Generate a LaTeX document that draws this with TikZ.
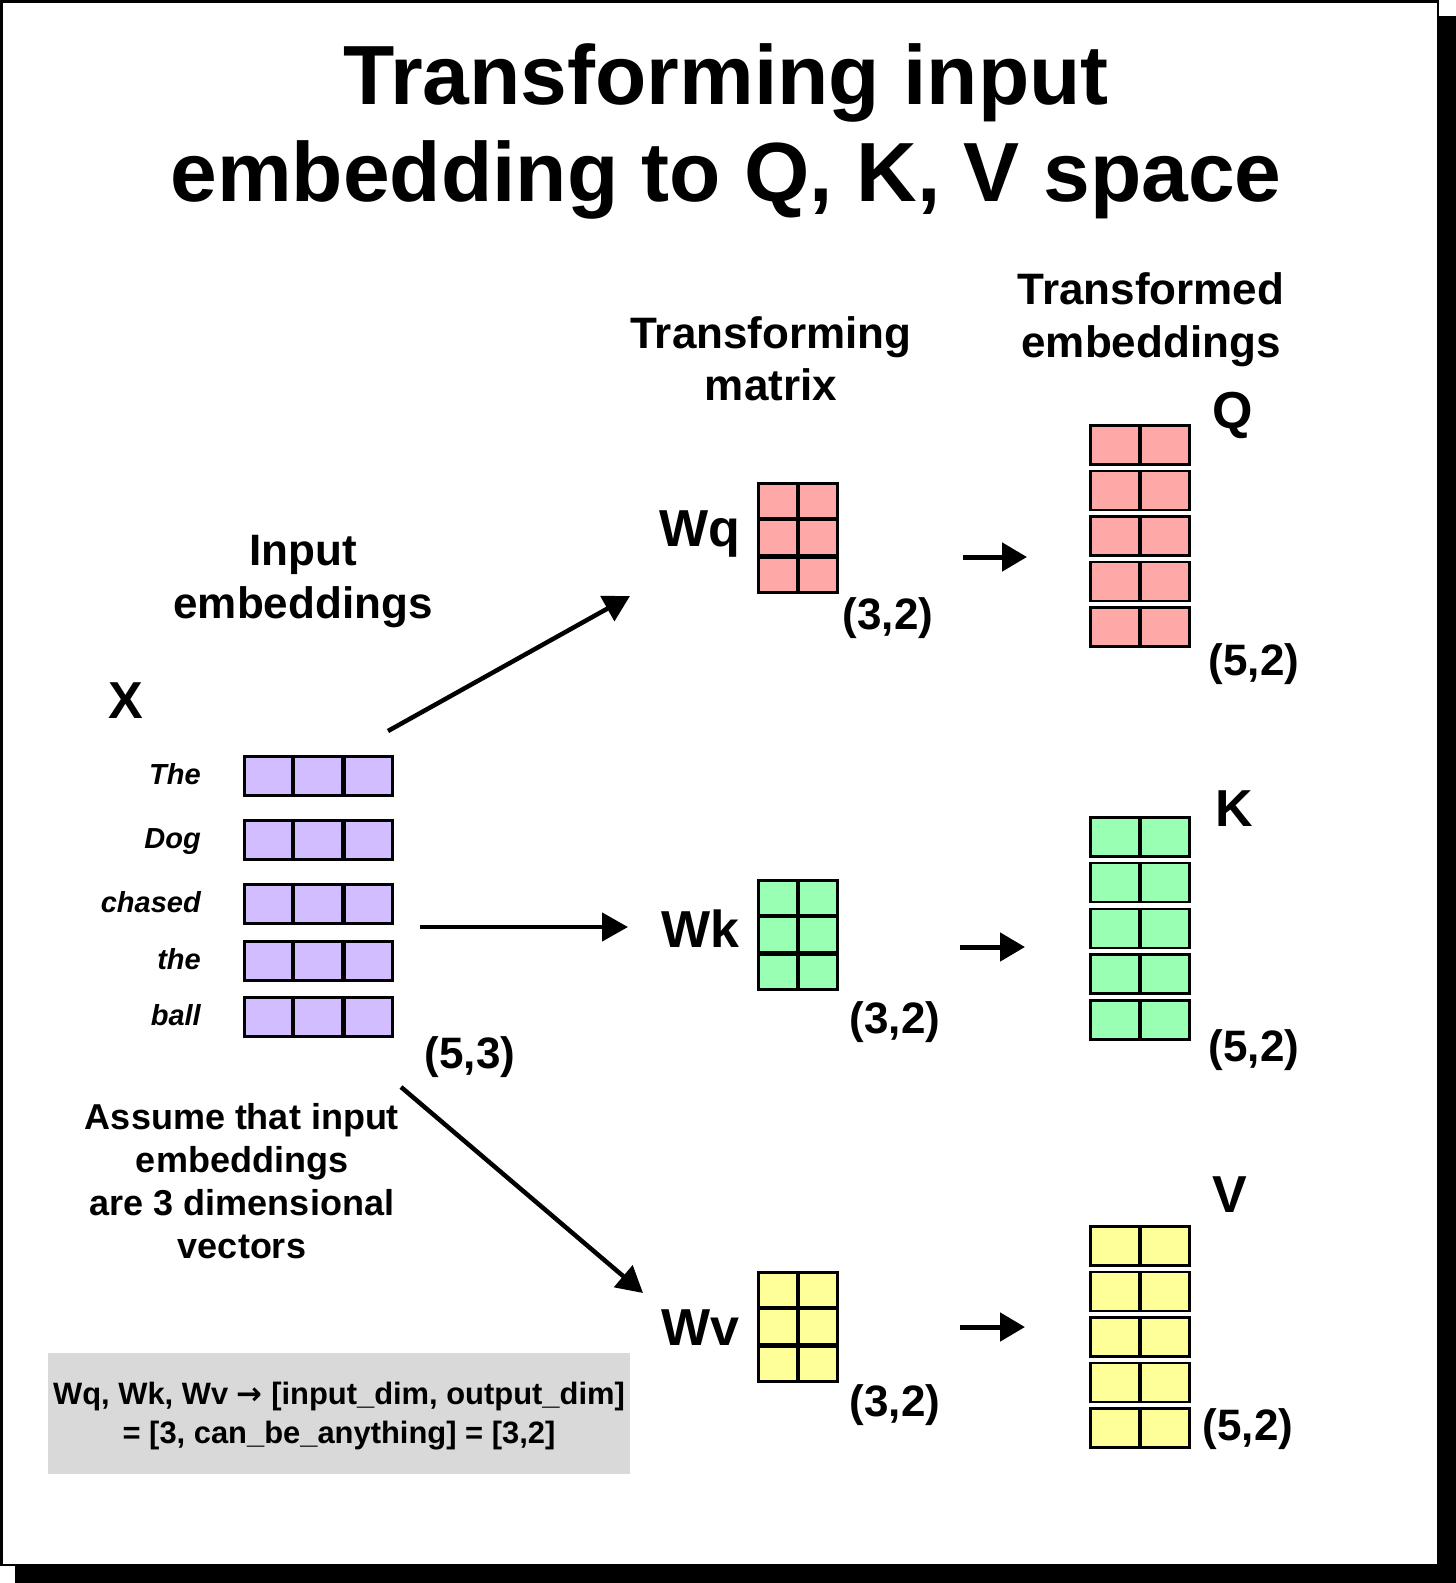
\documentclass[tikz,border=0pt]{standalone}
\usepackage{fontspec}
\setmainfont{Liberation Sans}
\newfontfamily\symfont{DejaVu Sans}
\usetikzlibrary{arrows.meta,calc}
\definecolor{xpurple}{RGB}{209,189,255}
\definecolor{qpink}{RGB}{255,168,168}
\definecolor{kgreen}{RGB}{153,255,178}
\definecolor{vyellow}{RGB}{255,255,153}
\definecolor{boxgray}{RGB}{217,217,217}
\newcommand\fsz[1]{\fontsize{#1}{#1}\selectfont}
\begin{document}
\begin{tikzpicture}[x=1pt,y=-1pt,
  lbl/.style={inner sep=0pt, anchor=base},
  titletxt/.style={lbl, font=\bfseries\fsz{84}},
  headtxt/.style={lbl, font=\bfseries\fsz{44}},
  bigtxt/.style={lbl, font=\bfseries\fsz{52}},
  dimtxt/.style={lbl, font=\bfseries\fsz{44}},
  wordtxt/.style={inner sep=0pt, anchor=base east, font=\bfseries\itshape\fsz{29}},
  notetxt/.style={lbl, font=\bfseries\fsz{36}},
  boxtxt/.style={lbl, font=\bfseries\fsz{30.9}},
  cellbox/.style={draw=black, line width=2.7pt, inner sep=0pt, anchor=north west},
  xrow/.style={cellbox, fill=xpurple, minimum width=148pt, minimum height=39pt},
  wmat/.style={cellbox, minimum width=79pt, minimum height=109pt},
  orow/.style={cellbox, minimum width=99pt, minimum height=39pt},
  divline/.style={line width=4.2pt, line cap=butt},
  bigarrow/.style={line width=4.5pt, -{Triangle[length=26pt,width=28pt]}},
  smallarrow/.style={line width=5pt, -{Triangle[length=25pt,width=28pt]}}
]
\useasboundingbox (0,0) rectangle (1456,1583);
% frame with shadow
\fill[black] (15,16) rectangle (1456,1583);
\fill[white] (0,0) rectangle (1439,1566);
\draw[line width=2.7pt] (1.35,1.35) rectangle (1438,1565);

% title
\node[titletxt] (title1) at (726,104) {Transforming input};
\node[titletxt] (title2) at (726,201) {embedding to Q, K, V space};

% headings
\node[headtxt] (tm1) at (771,348) {Transforming};
\node[headtxt] (tm2) at (771,400) {matrix};
\node[headtxt] (te1) at (1151,304) {Transformed};
\node[headtxt] (te2) at (1151,357) {embeddings};
\node[headtxt] (ie1) at (303,565) {Input};
\node[headtxt] (ie2) at (303,618) {embeddings};

% X and words
\node[bigtxt] (xlbl) at (126,718) {X};
\foreach \i/\y/\w in {1/755/The,2/819/Dog,3/883/chased,4/940/the,5/996/ball} {
  \node[xrow] (x\i) at (243,\y) {};
  \draw[divline] ($(x\i.north west)!1/3!(x\i.north east)$) -- ($(x\i.south west)!1/3!(x\i.south east)$);
  \draw[divline] ($(x\i.north west)!2/3!(x\i.north east)$) -- ($(x\i.south west)!2/3!(x\i.south east)$);
  \node[wordtxt] (w\i) at (201,\y+29.5) {\w};
}
\node[dimtxt] (xdim) at (470,1068) {(5,3)};

% weight matrices
\foreach \n/\c/\y/\l/\ly/\dx/\dy in {q/qpink/482/Wq/546/888/629,k/kgreen/879/Wk/947/895/1033,v/vyellow/1271/Wv/1345/895/1416} {
  \node[wmat, fill=\c] (W\n) at (757,\y) {};
  \draw[divline] (W\n.north) -- (W\n.south);
  \draw[divline] ($(W\n.north west)!1/3!(W\n.south west)$) -- ($(W\n.north east)!1/3!(W\n.south east)$);
  \draw[divline] ($(W\n.north west)!2/3!(W\n.south west)$) -- ($(W\n.north east)!2/3!(W\n.south east)$);
  \node[bigtxt] (W\n lbl) at (700,\ly) {\l};
  \node[dimtxt] (W\n dim) at (\dx,\dy) {(3,2)};
}

% output matrices
\foreach \i/\y in {1/424,2/469.5,3/515,4/560.5,5/606} {
  \node[orow, fill=qpink] (q\i) at (1089,\y) {};
  \draw[divline] (q\i.north) -- (q\i.south);
}
\foreach \i/\y in {1/816,2/861.5,3/907.5,4/953,5/999} {
  \node[orow, fill=kgreen] (k\i) at (1089,\y) {};
  \draw[divline] (k\i.north) -- (k\i.south);
}
\foreach \i/\y in {1/1225,2/1270.5,3/1316,4/1361.5,5/1407} {
  \node[orow, fill=vyellow] (v\i) at (1089,\y) {};
  \draw[divline] (v\i.north) -- (v\i.south);
}
\node[bigtxt] (qlbl) at (1233,428) {Q};
\node[bigtxt] (klbl) at (1234,826) {K};
\node[bigtxt] (vlbl) at (1230,1212) {V};
\node[dimtxt] (qdim) at (1254,675) {(5,2)};
\node[dimtxt] (kdim) at (1254,1061) {(5,2)};
\node[dimtxt] (vdim) at (1248,1440) {(5,2)};

% arrows
\coordinate (aqs) at (388,731);
\coordinate (aqe) at (630,596);
\coordinate (aks) at (420,927);
\coordinate (ake) at (628,927);
\coordinate (avs) at (401,1087);
\coordinate (ave) at (643,1293);
\draw[bigarrow] (aqs) -- (aqe);
\draw[bigarrow] (aks) -- (ake);
\draw[bigarrow] (avs) -- (ave);
\coordinate (sqs) at (963,557);
\coordinate (sqe) at (1027,557);
\coordinate (sks) at (960,947);
\coordinate (ske) at (1025,947);
\coordinate (svs) at (960,1327);
\coordinate (sve) at (1025,1327);
\draw[smallarrow] (sqs) -- (sqe);
\draw[smallarrow] (sks) -- (ske);
\draw[smallarrow] (svs) -- (sve);

% note
\node[notetxt] (n1) at (242,1129) {Assume that input};
\node[notetxt] (n2) at (242,1172) {embeddings};
\node[notetxt] (n3) at (242,1215) {are 3 dimensional};
\node[notetxt] (n4) at (242,1258) {vectors};

% gray box
\node[fill=boxgray, inner sep=0pt, minimum width=582pt, minimum height=121pt, anchor=north west] (box) at (48,1353) {};
\node[boxtxt] (b1) at (339,1404) {Wq, Wk, Wv {\symfont\bfseries →} [input\_dim, output\_dim]};
\node[boxtxt] (b2) at (339,1443) {= [3, can\_be\_anything] = [3,2]};
\end{tikzpicture}
\end{document}
